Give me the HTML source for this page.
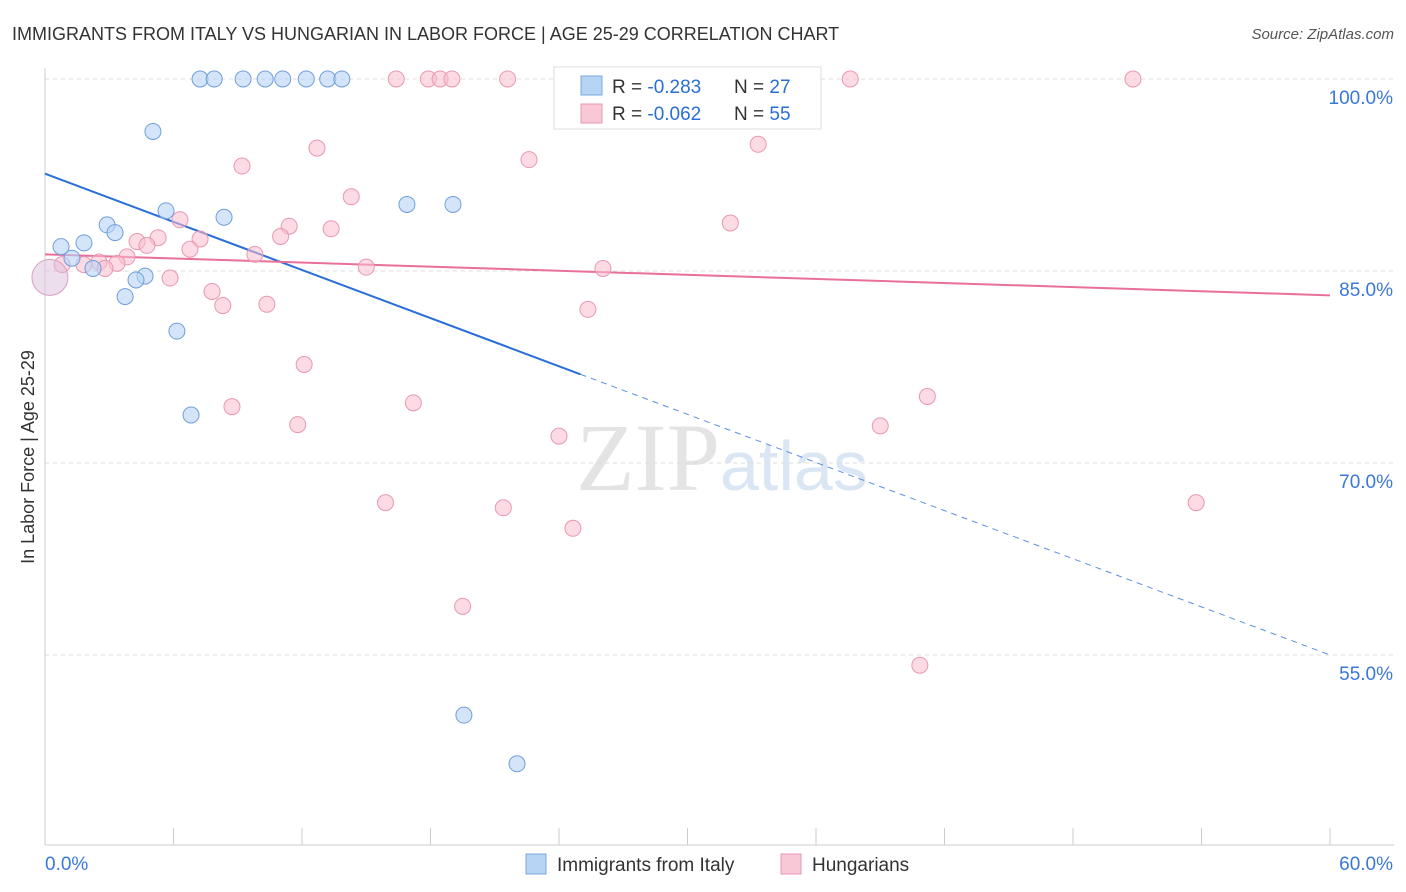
<!DOCTYPE html>
<html><head><meta charset="utf-8"><style>
body{margin:0;background:#fff;font-family:"Liberation Sans",sans-serif;}
svg{display:block}
</style></head><body>
<svg id="c" width="1406" height="892" xmlns="http://www.w3.org/2000/svg">
<text x="12" y="40" font-size="18" fill="#333">IMMIGRANTS FROM ITALY VS HUNGARIAN IN LABOR FORCE | AGE 25-29 CORRELATION CHART</text>
<text x="1394" y="39" font-size="15" fill="#555" font-style="italic" text-anchor="end">Source: ZipAtlas.com</text>
<text x="720" y="490" font-size="96" fill="#e4e4e4" text-anchor="end" font-family="Liberation Serif">ZIP</text>
<text x="720" y="490" font-size="70" fill="#dbe6f5">atlas</text>
<text transform="translate(34,457) rotate(-90)" font-size="18" fill="#333" text-anchor="middle">In Labor Force | Age 25-29</text>
<g id="grid"></g><g id="axes"></g><g id="lines"></g><g id="pts"></g>
<g>
<rect x="554" y="67" width="267" height="62" fill="#fff" stroke="#ddd"/>
<rect x="581" y="76" width="21" height="19" fill="#b8d4f5" stroke="#7aa8e0"/>
<rect x="581" y="104" width="21" height="19" fill="#f9c8d7" stroke="#e898b0"/>
<text x="612" y="93" font-size="19" fill="#333">R = <tspan fill="#2a6fd6">-0.283</tspan><tspan x="734">N = </tspan><tspan fill="#2a6fd6">27</tspan></text>
<text x="612" y="120" font-size="19" fill="#333">R = <tspan fill="#2a6fd6">-0.062</tspan><tspan x="734">N = </tspan><tspan fill="#2a6fd6">55</tspan></text>
</g>
<g>
<rect x="526" y="854" width="20" height="20" fill="#b8d4f5" stroke="#7aa8e0"/>
<text x="557" y="871" font-size="19" fill="#333">Immigrants from Italy</text>
<rect x="781" y="854" width="20" height="20" fill="#f9c8d7" stroke="#e898b0"/>
<text x="812" y="871" font-size="19" fill="#333">Hungarians</text>
</g>
</svg>
<script>
const xTicks=[0,6,12,18,24,30,36,42,48,54,60];
const yTicks=[100,85,70,55];
const yTickLabels=["100.0%","85.0%","70.0%","55.0%"];
const italyX=[7.24,7.9,9.25,10.28,11.1,12.2,13.2,13.86,5.04,5.65,8.36,2.9,3.27,1.82,0.75,1.26,2.24,4.67,4.25,3.74,6.16,16.9,19.05,6.82,19.56,22.04];
const italyY=[100,100,100,100,100,100,100,100,95.9,89.7,89.2,88.6,88.0,87.2,86.9,86.0,85.2,84.6,84.3,83.0,80.3,90.2,90.2,73.75,50.3,46.5];
const hungX=[16.4,17.9,18.45,19.0,21.6,28.7,33.85,37.6,50.8,12.7,9.2,22.6,33.3,14.3,6.3,11.4,13.36,11.0,32.0,7.24,5.28,4.3,4.76,6.77,9.8,3.83,2.52,3.36,0.8,1.82,2.8,15.0,26.05,5.84,7.8,8.3,10.36,25.35,12.1,8.73,17.2,11.8,24.0,39.0,41.2,15.9,21.4,24.65,53.75,19.5,40.85];
const hungY=[100,100,100,100,100,100,100,100,100,94.6,93.2,93.7,94.9,90.8,89.0,88.5,88.3,87.7,88.75,87.5,87.6,87.3,87.0,86.7,86.3,86.1,85.7,85.6,85.5,85.5,85.2,85.3,85.2,84.45,83.4,82.3,82.4,82.0,77.7,74.4,74.7,73.0,72.1,72.9,75.2,66.9,66.5,64.9,66.9,58.8,54.2];
const italyTrend=[92.6,55.0];
const hungTrend=[86.3,83.1];
const italySolidEnd=25;
const X=v=>45+v/60*1285, Y=v=>79+(100-v)*12.8;
const NS="http://www.w3.org/2000/svg";
function mk(p,t,a){const e=document.createElementNS(NS,t);for(const k in a)e.setAttribute(k,a[k]);document.getElementById(p).appendChild(e);return e;}
yTicks.forEach((t,i)=>{
 const g=mk('grid','line',{x1:45,x2:1394,y1:Y(t),y2:Y(t),stroke:'#ddd','stroke-dasharray':'4,4'});
 
 
 const l=mk('axes','text',{x:1393,y:Y(t)+25,'font-size':19,fill:'#3b78d8','text-anchor':'end'});
 l.textContent=yTickLabels[i];
 
 
});
let a=mk('axes','line',{x1:45,x2:45,y1:68,y2:845,stroke:'#ccc'});


a=mk('axes','line',{x1:45,x2:1394,y1:845,y2:845,stroke:'#ccc'});


xTicks.forEach(t=>{const e=mk('axes','line',{x1:X(t),x2:X(t),y1:828,y2:845,stroke:'#ccc'});
 
 });
[[0,'0.0%','start',45],[60,'60.0%','end',1393]].forEach(d=>{const e=mk('axes','text',{x:d[3],y:870,'font-size':19,fill:'#3b78d8','text-anchor':d[2]});e.textContent=d[1];
 
 });
function ty(tr,x){return tr[0]+(tr[1]-tr[0])*x/60;}
let ln=mk('lines','line',{x1:X(0),y1:Y(ty(italyTrend,0)),x2:X(italySolidEnd),y2:Y(ty(italyTrend,italySolidEnd)),stroke:'#2a6fd6','stroke-width':2});


ln=mk('lines','line',{x1:X(italySolidEnd),y1:Y(ty(italyTrend,italySolidEnd)),x2:X(60),y2:Y(ty(italyTrend,60)),stroke:'#5a8fe0','stroke-width':1,'stroke-dasharray':'6,5'});


ln=mk('lines','line',{x1:X(0),y1:Y(hungTrend[0]),x2:X(60),y2:Y(hungTrend[1]),stroke:'#e8709a','stroke-width':2});


hungX.forEach((x,i)=>{const c=mk('pts','circle',{cx:X(x),cy:Y(hungY[i]),r:8,fill:'rgba(249,190,208,0.55)',stroke:'#e898b0'});
 
 });
italyX.forEach((x,i)=>{const c=mk('pts','circle',{cx:X(x),cy:Y(italyY[i]),r:8,fill:'rgba(184,212,245,0.6)',stroke:'#6f9fdc'});
 
 });
let b=mk('pts','circle',{cx:X(0.23),cy:Y(84.5),r:18,fill:'rgba(220,190,220,0.5)',stroke:'#d8a0c0'});


</script>
</body></html>
